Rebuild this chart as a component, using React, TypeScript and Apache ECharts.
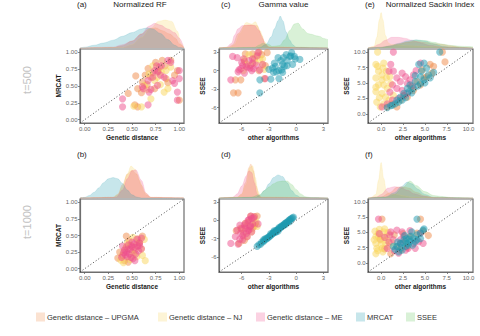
import React, { useEffect, useRef } from "react";
import * as echarts from "echarts";

// ---------- categories ----------
const GROUPS = ["Genetic distance – UPGMA", "Genetic distance – NJ", "Genetic distance – ME", "MRCAT", "SSEE"];
const COLORS = ["#F08A48", "#F9D55B", "#EE4D8C", "#1E9AAF", "#66C75E"];
const PANEL_TAGS = ["(a)", "(c)", "(e)", "(b)", "(d)", "(f)"];
const COL_TITLES = ["Normalized RF", "Gamma value", "Normalized Sackin Index"];
const ROW_LABELS = ["t=500", "t=1000"];
const X_NAMES = ["Genetic distance", "other algorithms", "other algorithms"];
const Y_NAMES = ["MRCAT", "SSEE", "SSEE"];

// ---------- tick values ----------
const TICKS_RF = [0, 0.25, 0.5, 0.75, 1.0];
const TICKS_GAMMA = [-6, -3, 0, 3];
const TICKS_SACKIN = [0, 2.5, 5, 7.5, 10];

// ---------- scatter data: [other algorithm value, y value] ----------
// (a) t=500, Normalized RF
const a_upgma = [[0.54,0.65],[0.46,0.39],[0.56,0.19],[0.53,0.22],[0.67,0.76],[0.75,0.85],[0.82,0.88],[0.91,0.88],[0.95,0.66],[0.98,0.73],[0.56,0.46],[0.70,0.63],[0.79,0.78],[1.0,0.29],[0.86,0.61],[0.61,0.56],[0.74,0.46],[0.64,0.66],[0.72,0.70],[0.78,0.72],[0.85,0.80],[0.66,0.52],[0.88,0.55],[0.60,0.40]];
const a_nj = [[0.60,0.19],[0.70,0.31],[0.84,0.41],[0.88,0.46],[0.81,0.71],[0.68,0.68],[0.74,0.58],[0.91,0.78],[0.63,0.51],[0.77,0.63],[0.86,0.73],[0.52,0.20],[0.66,0.45],[0.80,0.52],[0.72,0.80]];
const a_me = [[0.40,0.31],[0.40,0.19],[0.67,0.22],[0.68,0.41],[0.61,0.49],[1.0,0.61],[0.91,0.85],[0.81,0.80],[0.77,0.71],[0.72,0.63],[0.84,0.63],[0.93,0.58],[0.77,0.51],[0.67,0.58],[0.95,0.54],[0.74,0.73],[0.98,0.41],[0.98,0.29],[1.0,0.73],[0.88,0.88],[0.70,0.45],[0.62,0.46],[0.80,0.66],[0.76,0.80]];
// (c) t=500, Gamma
const c_upgma = [[-6.9,-3.6],[-6.4,-3.6],[-6.7,-1.5],[-6.1,-1.5],[-4.1,3.0],[-4.8,2.7],[-3.4,0.8],[-4.1,0.0],[-5.6,2.7],[-3.2,2.9],[-3.8,2.6],[-4.6,1.9],[-5.7,1.5],[-3.5,-1.3],[-5.0,0.9]];
const c_nj = [[-4.5,1.3],[-5.2,2.6],[-3.7,1.9],[-5.8,0.0],[-3.5,0.2],[-5.7,1.8],[-4.0,1.8],[-3.7,0.9],[-4.4,2.4],[-5.4,1.0]];
const c_me = [[-6.5,2.1],[-6.3,0.1],[-5.9,0.8],[-5.2,1.6],[-5.4,0.5],[-4.7,0.3],[-4.3,2.4],[-3.7,1.0],[-7.2,-1.5],[-3.4,-1.3],[-4.8,1.9],[-5.8,1.9],[-7.0,2.3],[-6.4,-0.2],[-5.5,0.7],[-5.7,-0.4],[-5.1,0.4],[-4.8,1.2],[-4.4,0.9],[-4.2,2.9],[-4.0,0.1],[-6.1,0.3],[-4.9,0.0],[-6.0,1.3]];
const c_mrcat = [[-4.0,-3.6],[-4.0,-1.5],[-2.8,-1.4],[-1.9,-1.3],[-3.0,0.2],[-2.3,0.7],[-1.5,1.0],[-1.4,2.1],[-0.6,2.4],[-0.1,1.9],[0.4,1.8],[-1.0,0.8],[-1.9,0.0],[-2.5,-0.3],[-1.5,-0.3],[-0.4,1.0],[-1.0,1.6],[-1.7,1.6],[-0.5,2.9],[-0.2,2.3],[-1.1,2.6],[-2.0,2.1],[-2.6,0.4],[-2.4,1.2],[-1.3,0.7],[-0.7,2.3],[-2.2,-0.2],[-1.6,0.1]];
// (e) t=500, Sackin
const e_upgma = [[7.0,10],[7.3,8.4],[5.6,8.0],[6.0,7.7],[1.8,1.1],[2.2,2.2],[3.0,2.7],[3.7,3.8],[4.5,4.7],[4.9,5.8],[5.2,6.0],[5.8,6.6],[4.1,5.2],[0.7,1.1],[4.7,7.1],[2.6,3.0],[3.4,4.4],[1.3,1.6]];
const e_nj = [[-0.4,10],[-0.6,8.0],[0.3,8.2],[-0.3,6.9],[0.1,6.3],[-0.6,5.8],[-0.3,4.7],[0.3,4.7],[-0.6,3.6],[0.1,3.3],[0.5,2.7],[-0.5,1.9],[0.3,1.6],[0.9,2.2],[0.7,4.1],[0.1,5.5],[-0.4,7.7],[0.6,6.9],[1.1,4.9],[1.4,3.0],[-0.1,1.1],[-0.6,4.3],[0.6,5.8],[0.2,7.4],[1.0,6.0],[-0.2,2.6]];
const e_me = [[1.4,10],[1.1,8.0],[0.9,6.9],[1.4,6.9],[1.8,5.8],[1.3,4.7],[2.2,5.2],[2.8,6.0],[3.0,4.9],[3.3,5.5],[3.7,6.3],[4.5,8.2],[2.4,3.8],[2.0,2.5],[1.3,2.2],[0.7,1.6],[0.1,1.1],[3.0,3.3],[1.8,4.1],[2.4,6.6],[4.0,7.0],[1.0,3.5],[3.6,4.5],[2.6,2.9]];
const e_mrcat = [[6.7,10],[4.3,8.0],[4.9,8.2],[6.0,6.7],[5.4,6.3],[4.5,6.0],[3.9,5.2],[3.3,4.7],[3.0,4.1],[2.6,3.3],[2.2,2.7],[1.8,2.2],[1.3,1.4],[0.7,1.0],[3.7,4.1],[4.5,4.9],[4.9,5.5],[3.2,3.6],[2.4,2.2],[5.2,7.4],[1.6,1.6],[2.0,1.9],[2.8,2.6],[3.5,3.4],[4.2,4.5],[5.0,5.0],[5.6,5.8],[1.1,1.3],[3.9,6.2],[4.6,6.9]];
// (b) t=1000, Normalized RF
const b_upgma = [[0.44,0.49],[0.61,0.49],[0.37,0.25],[0.42,0.12],[0.46,0.10],[0.58,0.39],[0.49,0.35],[0.53,0.28],[0.40,0.20],[0.56,0.45],[0.47,0.42],[0.35,0.16],[0.50,0.25],[0.44,0.33]];
const b_nj = [[0.51,0.47],[0.63,0.44],[0.64,0.12],[0.61,0.20],[0.48,0.14],[0.55,0.36],[0.43,0.30],[0.60,0.30],[0.38,0.13],[0.52,0.22],[0.57,0.40],[0.45,0.38],[0.41,0.09],[0.55,0.18]];
const b_me = [[0.58,0.39],[0.53,0.32],[0.46,0.30],[0.40,0.34],[0.39,0.17],[0.49,0.17],[0.54,0.22],[0.60,0.30],[0.56,0.34],[0.47,0.22],[0.44,0.25],[0.51,0.15],[0.42,0.28],[0.50,0.40],[0.55,0.44],[0.60,0.46],[0.45,0.18],[0.52,0.37],[0.43,0.21],[0.57,0.27],[0.48,0.29],[0.41,0.24],[0.53,0.12],[0.50,0.33],[0.46,0.36],[0.58,0.35]];
// (d) t=1000, Gamma
const d_upgma = [[-6.3,-3.8],[-6.1,-1.3],[-5.8,-2.1],[-4.8,-1.3],[-5.0,0.7],[-4.5,-0.5],[-6.6,-1.7],[-5.3,-0.3],[-5.7,-3.3],[-4.3,0.7],[-5.5,-1.0],[-4.6,-0.9]];
const d_nj = [[-5.6,-0.5],[-4.7,0.4],[-4.4,-0.3],[-5.2,-1.6],[-4.9,-1.9],[-6.0,-1.4],[-4.6,0.6],[-5.4,-2.7],[-4.3,-1.0],[-5.1,-0.2]];
const d_me = [[-7.2,-3.8],[-6.5,-1.6],[-5.6,-0.5],[-5.2,0.1],[-5.0,0.7],[-4.7,0.4],[-5.4,-2.7],[-5.9,-3.2],[-6.7,-2.7],[-5.2,-1.6],[-5.7,-0.8],[-5.3,0.0],[-4.9,0.3],[-4.6,0.6],[-5.5,-2.2],[-5.9,-2.5],[-5.1,-1.1],[-4.8,-0.6],[-5.3,-1.7],[-4.2,-0.6],[-6.2,-0.8],[-4.9,-1.9],[-6.4,-3.9],[-6.2,-3.1],[-6.0,-1.4],[-5.6,-1.3],[-5.0,-0.9],[-6.1,-2.1]];
const d_mrcat = [[-4.3,-4.3],[-4.1,-4.0],[-3.9,-3.9],[-3.8,-3.6],[-3.6,-3.5],[-3.5,-3.3],[-3.3,-3.1],[-3.2,-2.9],[-3.1,-2.9],[-3.0,-2.7],[-2.9,-2.6],[-2.8,-2.5],[-2.7,-2.3],[-2.6,-2.2],[-2.5,-2.1],[-2.4,-2.0],[-2.3,-1.9],[-2.2,-1.7],[-2.1,-1.6],[-2.0,-1.5],[-1.9,-1.4],[-1.8,-1.3],[-1.7,-1.1],[-1.6,-1.1],[-1.5,-0.9],[-1.4,-0.8],[-1.3,-0.6],[-1.2,-0.5],[-1.1,-0.4],[-1.0,-0.3],[-0.9,-0.2],[-0.8,0.0],[-0.7,0.1],[-0.6,0.2],[-0.5,0.3],[-0.4,0.4],[-0.3,0.5],[-2.5,-1.9],[-1.9,-1.2],[-1.3,-0.8],[-3.4,-3.0],[-2.2,-1.9],[-1.6,-0.9],[-2.8,-2.2],[-2.0,-1.8],[-1.1,-0.6],[-0.7,-0.2],[-3.6,-3.2],[-2.4,-1.7]];
// (f) t=1000, Sackin
const f_upgma = [[-0.1,3.9],[0.1,7.2],[4.5,7.2],[5.4,4.5],[1.1,1.5],[1.8,2.7],[2.8,3.5],[3.3,4.3],[4.1,4.9],[2.2,2.1],[0.4,2.3],[1.5,4.6],[3.0,2.6],[4.8,5.2],[2.5,4.8]];
const f_nj = [[-0.6,4.3],[-0.3,4.9],[0.3,5.1],[-0.1,3.8],[-0.6,3.2],[0.5,3.2],[-0.5,2.4],[0.1,2.4],[-0.6,1.5],[0.7,4.3],[0.9,2.7],[-0.3,4.3],[0.2,4.3],[-0.8,3.8],[0.4,5.6],[-0.2,5.5],[0.0,3.0],[0.6,3.7],[-0.4,2.0],[1.2,3.4],[0.2,1.8],[-0.7,5.2],[0.8,5.0]];
const f_me = [[-0.3,7.2],[1.8,5.4],[2.4,5.1],[1.1,5.1],[1.4,3.8],[0.7,2.4],[3.7,3.2],[4.3,3.5],[4.5,4.9],[2.2,3.2],[4.8,3.2],[2.8,2.1],[2.2,3.8],[3.1,2.4],[0.4,4.2],[-0.2,4.8],[1.5,2.0],[3.3,5.3],[2.0,1.6],[0.9,3.4],[3.9,2.4],[1.0,4.6],[2.6,4.4]];
const f_mrcat = [[1.8,2.7],[2.2,3.2],[2.6,3.8],[2.9,4.0],[3.3,3.5],[3.7,4.0],[4.1,4.6],[4.5,4.9],[4.8,5.4],[2.8,2.7],[2.4,2.1],[3.1,2.9],[3.9,3.5],[3.5,5.1],[2.0,1.8],[1.4,2.7],[4.1,7.2],[4.1,3.8],[4.5,4.0],[2.5,3.3],[3.0,3.2],[3.4,4.4],[1.9,3.4],[2.7,4.5],[3.6,2.9],[4.9,5.6],[1.6,2.2],[3.2,3.9],[2.3,2.5]];

// ---------- marginal densities: [value, relative density] ----------
const dens_a_upgma = [[-0.05,0],[0.3,0.02],[0.4,0.08],[0.5,0.25],[0.6,0.5],[0.68,0.68],[0.75,0.72],[0.82,0.62],[0.9,0.5],[0.96,0.35],[1.0,0.15],[1.05,0]];
const dens_a_nj = [[-0.05,0],[0.4,0.02],[0.5,0.12],[0.6,0.38],[0.7,0.72],[0.78,0.95],[0.85,1.0],[0.92,0.95],[0.98,0.6],[1.02,0.15],[1.05,0]];
const dens_a_me = [[-0.05,0],[0.3,0.03],[0.4,0.12],[0.5,0.25],[0.6,0.5],[0.68,0.78],[0.74,0.88],[0.8,0.82],[0.88,0.68],[0.95,0.55],[1.0,0.35],[1.05,0]];
const dens_a_mrcat = [[-0.05,0],[0.0,0.03],[0.1,0.1],[0.2,0.18],[0.3,0.28],[0.4,0.42],[0.5,0.55],[0.6,0.68],[0.66,0.72],[0.72,0.68],[0.8,0.52],[0.88,0.3],[0.95,0.1],[1.0,0.02],[1.05,0]];

const dens_c_upgma = [[-8.5,0],[-7.5,0.02],[-7.0,0.1],[-6.4,0.45],[-5.7,0.7],[-4.9,0.72],[-4.3,0.7],[-3.8,0.4],[-3.4,0.12],[-2.9,0.02],[3.5,0]];
const dens_c_nj = [[-8.5,0],[-7.3,0.02],[-6.8,0.1],[-6.2,0.45],[-5.5,0.8],[-4.9,0.75],[-4.5,0.82],[-4.0,0.55],[-3.5,0.2],[-3.1,0.04],[3.5,0]];
const dens_c_me = [[-8.5,0],[-7.7,0.02],[-7.1,0.15],[-6.8,0.4],[-6.4,0.6],[-5.9,0.7],[-5.1,0.72],[-4.6,0.7],[-4.1,0.55],[-3.7,0.3],[-3.4,0.1],[-2.9,0.02],[3.5,0]];
const dens_c_mrcat = [[-8.5,0],[-4.5,0.01],[-4.0,0.02],[-3.3,0.12],[-2.75,0.35],[-2.4,0.6],[-2.0,0.85],[-1.76,1.0],[-1.47,0.85],[-1.1,0.5],[-0.73,0.25],[-0.37,0.1],[0.0,0.02],[3.5,0]];
const dens_c_ssee = [[-8.5,0],[-4.6,0.02],[-4.0,0.1],[-3.7,0.15],[-3.1,0.12],[-2.6,0.05],[-1.8,0.08],[-1.3,0.25],[-0.7,0.55],[-0.2,0.75],[0.2,0.78],[0.7,0.6],[1.3,0.45],[1.8,0.42],[2.2,0.38],[2.6,0.36],[3.0,0.3],[3.5,0.26]];

const dens_e_upgma = [[-1.5,0],[0,0.02],[1,0.06],[2,0.12],[3,0.16],[4,0.18],[5,0.16],[6,0.12],[7,0.1],[8,0.06],[9,0.02],[10.5,0]];
const dens_e_nj = [[-1.5,0],[-0.8,0.05],[-0.5,0.3],[-0.2,0.8],[0.0,1.0],[0.2,0.8],[0.5,0.35],[0.8,0.15],[1.2,0.1],[2,0.08],[3,0.06],[5,0.04],[7,0.03],[10.5,0]];
const dens_e_me = [[-1.5,0],[-1,0.02],[-0.3,0.1],[0.5,0.22],[1.2,0.3],[2.0,0.3],[2.8,0.27],[3.5,0.22],[4.5,0.15],[5.5,0.08],[7,0.03],[9,0.01],[10.5,0]];
const dens_e_mrcat = [[-1.5,0],[0,0.02],[1,0.06],[2,0.13],[3,0.2],[4,0.23],[5,0.2],[6,0.12],[7,0.05],[8,0.02],[10.5,0]];
const dens_e_ssee = [[-1.5,0],[0,0.01],[1,0.04],[2,0.1],[3,0.17],[4,0.22],[5,0.21],[6,0.16],[7,0.11],[8,0.07],[9,0.05],[10,0.04],[10.5,0.03]];

const dens_b_upgma = [[-0.05,0],[0.3,0.02],[0.35,0.12],[0.4,0.42],[0.45,0.75],[0.5,0.87],[0.55,0.75],[0.6,0.4],[0.65,0.1],[0.7,0.02],[1.05,0]];
const dens_b_nj = [[-0.05,0],[0.3,0.02],[0.35,0.1],[0.4,0.35],[0.45,0.75],[0.49,1.0],[0.53,0.9],[0.58,0.55],[0.63,0.18],[0.7,0.02],[1.05,0]];
const dens_b_me = [[-0.05,0],[0.33,0.02],[0.4,0.25],[0.45,0.6],[0.5,0.85],[0.54,0.88],[0.6,0.55],[0.65,0.15],[0.7,0.02],[1.05,0]];
const dens_b_mrcat = [[-0.05,0],[0.0,0.02],[0.05,0.08],[0.1,0.18],[0.15,0.32],[0.2,0.48],[0.25,0.6],[0.3,0.64],[0.35,0.6],[0.4,0.45],[0.45,0.25],[0.5,0.1],[0.55,0.03],[0.6,0],[1.05,0]];

const dens_d_upgma = [[-8.5,0],[-6.5,0.02],[-6.0,0.12],[-5.6,0.45],[-5.2,0.9],[-5.0,1.0],[-4.7,0.8],[-4.4,0.35],[-4.1,0.08],[-3.8,0.01],[3.5,0]];
const dens_d_nj = [[-8.5,0],[-6.5,0.02],[-6.0,0.1],[-5.5,0.4],[-5.1,0.9],[-4.8,0.95],[-4.5,0.6],[-4.2,0.2],[-3.9,0.03],[3.5,0]];
const dens_d_me = [[-8.5,0],[-7.0,0.02],[-6.5,0.12],[-6.0,0.35],[-5.5,0.65],[-5.2,0.8],[-4.9,0.75],[-4.6,0.45],[-4.3,0.12],[-4.0,0.02],[3.5,0]];
const dens_d_mrcat = [[-8.5,0],[-4.5,0.02],[-4.0,0.08],[-3.5,0.22],[-3.0,0.42],[-2.5,0.6],[-2.0,0.68],[-1.5,0.63],[-1.0,0.45],[-0.5,0.22],[0.0,0.08],[0.5,0.02],[3.5,0]];
const dens_d_ssee = [[-8.5,0],[-5.0,0.02],[-4.0,0.1],[-3.5,0.22],[-3.0,0.32],[-2.5,0.42],[-2.0,0.48],[-1.5,0.5],[-1.0,0.5],[-0.5,0.4],[0.0,0.25],[0.5,0.12],[1.0,0.04],[1.5,0.01],[3.5,0]];

const dens_f_upgma = [[-1.5,0],[0,0.03],[1,0.15],[1.8,0.3],[2.5,0.32],[3.2,0.28],[4,0.16],[5,0.06],[6,0.01],[10.5,0]];
const dens_f_nj = [[-1.5,0],[-1.2,0.01],[-0.6,0.1],[-0.3,0.5],[0.0,1.0],[0.3,0.55],[0.6,0.2],[1.0,0.12],[1.8,0.1],[2.5,0.06],[3.5,0.02],[10.5,0]];
const dens_f_me = [[-1.5,0],[-0.5,0.03],[0,0.1],[0.8,0.28],[1.5,0.32],[2.2,0.3],[3.0,0.22],[3.8,0.12],[4.8,0.05],[6,0.01],[10.5,0]];
const dens_f_mrcat = [[-1.5,0],[0.5,0.03],[1.5,0.15],[2.3,0.32],[3.0,0.45],[3.5,0.4],[4.2,0.25],[5,0.1],[6,0.02],[10.5,0]];
const dens_f_ssee = [[-1.5,0],[0.5,0.02],[1.5,0.1],[2.5,0.3],[3.3,0.48],[4,0.35],[5,0.18],[6,0.07],[7,0.04],[8,0.01],[10.5,0]];

// ---------- panel assembly (panel order: a, c, e, b, d, f) ----------
const SCATTER = [
  [a_upgma, a_nj, a_me, null],
  [c_upgma, c_nj, c_me, c_mrcat],
  [e_upgma, e_nj, e_me, e_mrcat],
  [b_upgma, b_nj, b_me, null],
  [d_upgma, d_nj, d_me, d_mrcat],
  [f_upgma, f_nj, f_me, f_mrcat],
];
const DENS = [
  [dens_a_upgma, dens_a_nj, dens_a_me, dens_a_mrcat, null],
  [dens_c_upgma, dens_c_nj, dens_c_me, dens_c_mrcat, dens_c_ssee],
  [dens_e_upgma, dens_e_nj, dens_e_me, dens_e_mrcat, dens_e_ssee],
  [dens_b_upgma, dens_b_nj, dens_b_me, dens_b_mrcat, null],
  [dens_d_upgma, dens_d_nj, dens_d_me, dens_d_mrcat, dens_d_ssee],
  [dens_f_upgma, dens_f_nj, dens_f_me, dens_f_mrcat, dens_f_ssee],
];

// ---------- layout ----------
const FONT = "'Liberation Sans', Arial, Helvetica, sans-serif";
const COLS = [
  { left: 80, width: 104, min: -0.05, max: 1.05, ticks: TICKS_RF, fmt: (v: number) => v.toFixed(2), yGap: 16.5 },
  { left: 219, width: 109, min: -8.5, max: 3.5, ticks: TICKS_GAMMA, fmt: (v: number) => String(v), yGap: 13 },
  { left: 368, width: 105, min: -1.5, max: 10.5, ticks: TICKS_SACKIN, fmt: (v: number) => v.toFixed(1), yGap: 17 },
];
const ROWS = [
  { top: 49, height: 74, densTop: [20, 16, 12.5], titleY: 4, labelY: 80 },
  { top: 199, height: 73, densTop: [166, 164, 162.5], titleY: 154, labelY: 222 },
];
const TAG_X = [77, 221, 365];
const TITLE_X = [140, 283.5, 430];
const LEGEND_X = [36, 158, 256, 356, 406];
const LEGEND_Y = 317;

export default function App() {
  const ref = useRef<HTMLDivElement>(null);
  useEffect(() => {
    const chart = echarts.init(ref.current!, null, { renderer: "svg" });
    const grids: any[] = [];
    const xAxes: any[] = [];
    const yAxes: any[] = [];
    const series: any[] = [];
    const graphics: any[] = [];

    const axisCommon = (c: any) => ({
      type: "value",
      min: c.min,
      max: c.max,
      splitLine: { show: false },
      axisLine: { show: true, onZero: false, lineStyle: { color: "#6e6e6e", width: 1.2 } },
      axisTick: { show: true, length: 2, customValues: c.ticks, lineStyle: { color: "#666", width: 0.8 } },
      axisLabel: { customValues: c.ticks, formatter: c.fmt, fontSize: 6, color: "#666", margin: 2.5, fontFamily: FONT },
      nameLocation: "middle",
      nameTextStyle: { fontSize: 6.5, fontWeight: "bold", color: "#1a1a1a", fontFamily: FONT },
    });

    // scatter grids 0..5
    for (let i = 0; i < 6; i++) {
      const col = i % 3, row = Math.floor(i / 3);
      const c = COLS[col], r = ROWS[row];
      grids.push({ left: c.left, top: r.top, width: c.width, height: r.height, show: true, borderColor: "#6e6e6e", borderWidth: 1.2, backgroundColor: "#fff" });
      xAxes.push({ gridIndex: i, ...axisCommon(c), name: X_NAMES[col], nameGap: 10.5 });
      yAxes.push({ gridIndex: i, ...axisCommon(c), name: Y_NAMES[col], nameGap: c.yGap });
      SCATTER[i].forEach((d, g) => {
        if (!d) return;
        series.push({
          type: "scatter", xAxisIndex: i, yAxisIndex: i, data: d, symbolSize: 7.2, silent: true,
          itemStyle: { color: COLORS[g], opacity: 0.5 },
        });
      });
      series.push({
        type: "line", xAxisIndex: i, yAxisIndex: i, symbol: "none", silent: true,
        data: [[c.min, c.min], [c.max, c.max]],
        lineStyle: { color: "#333", width: 0.9, type: [1, 2.2] },
      });
    }
    // density grids 6..11
    for (let i = 0; i < 6; i++) {
      const col = i % 3, row = Math.floor(i / 3);
      const c = COLS[col], r = ROWS[row];
      const top = r.densTop[col];
      const gi = 6 + i;
      grids.push({ left: c.left, top, width: c.width, height: r.top - 1 - top });
      xAxes.push({ gridIndex: gi, type: "value", min: c.min, max: c.max, show: false });
      yAxes.push({ gridIndex: gi, type: "value", min: 0, max: 1, show: false });
      DENS[i].forEach((d, g) => {
        if (!d) return;
        series.push({
          type: "line", xAxisIndex: gi, yAxisIndex: gi, data: d, symbol: "none", silent: true,
          smooth: 0.35, smoothMonotone: "x", clip: false,
          lineStyle: { color: COLORS[g], width: 0.4, opacity: 0.35 },
          areaStyle: { color: COLORS[g], opacity: 0.25 },
        });
      });
      graphics.push({ type: "text", x: TAG_X[col], y: r.titleY, style: { text: PANEL_TAGS[i], fontSize: 8, fontFamily: FONT, fill: "#222", verticalAlign: "middle" } });
      if (row === 0) {
        graphics.push({ type: "text", x: TITLE_X[col], y: r.titleY, style: { text: COL_TITLES[col], fontSize: 8, fontFamily: FONT, fill: "#222", align: "center", verticalAlign: "middle" } });
      }
    }
    ROWS.forEach((r, k) => {
      graphics.push({ type: "text", x: 27, y: r.labelY, rotation: Math.PI / 2, style: { text: ROW_LABELS[k], fontSize: 11, fontFamily: FONT, fill: "#c2c2c2", align: "center", verticalAlign: "middle" } });
    });
    GROUPS.forEach((name, g) => {
      graphics.push({ type: "rect", shape: { x: LEGEND_X[g], y: LEGEND_Y - 4.5, width: 9, height: 9 }, style: { fill: COLORS[g], opacity: 0.25 } });
      graphics.push({ type: "text", x: LEGEND_X[g] + 11, y: LEGEND_Y, style: { text: name, fontSize: 7.5, fontFamily: FONT, fill: "#333", verticalAlign: "middle" } });
    });

    chart.setOption({
      animation: false,
      backgroundColor: "#fff",
      textStyle: { fontFamily: FONT },
      grid: grids,
      xAxis: xAxes,
      yAxis: yAxes,
      series,
      graphic: graphics,
    });
    return () => chart.dispose();
  }, []);
  return <div ref={ref} style={{ position: "absolute", left: 0, top: 0, width: 480, height: 336 }} />;
}
